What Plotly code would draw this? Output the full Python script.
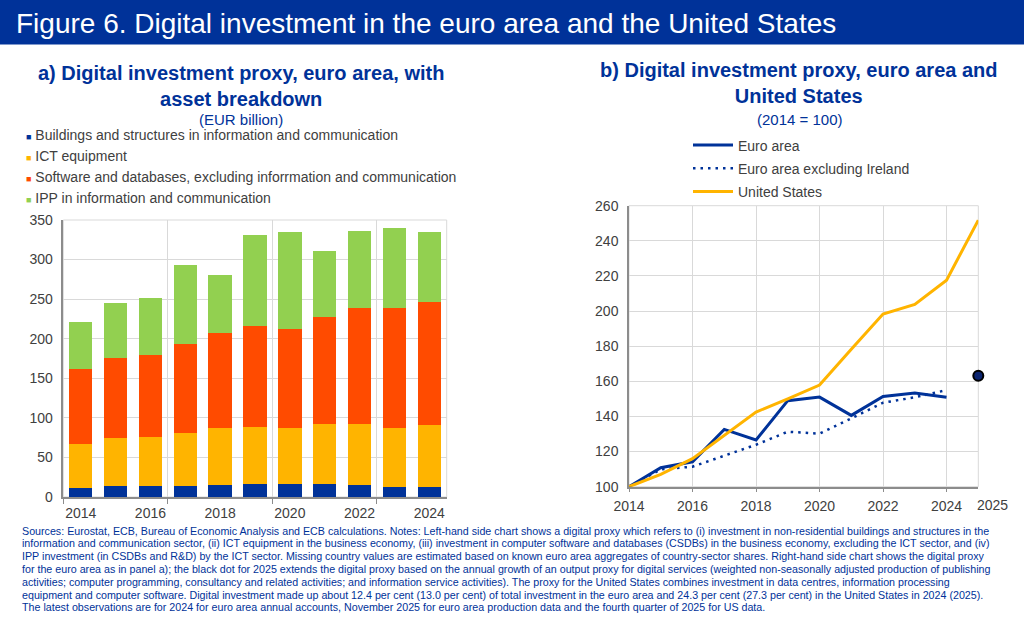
import plotly.graph_objects as go

# panel a) EUR billion, stacked by asset type
years_a = [2014, 2015, 2016, 2017, 2018, 2019, 2020, 2021, 2022, 2023, 2024]
buildings = [11.8, 13.5, 14.3, 14.3, 15.2, 16.0, 16.4, 16.4, 15.6, 12.7, 13.0]
ict_equipment = [55.2, 60.5, 61.2, 67.1, 72.1, 73.0, 70.5, 75.6, 77.2, 75.0, 78.5]
software = [94.5, 101.5, 103.5, 111.6, 119.4, 127.0, 125.7, 135.0, 145.9, 151.3, 154.5]
ipp = [59.1, 70.0, 73.0, 100.0, 74.3, 114.7, 122.4, 84.0, 97.0, 100.5, 88.5]

# panel b) index 2014 = 100
years_b = [2014, 2015, 2016, 2017, 2018, 2019, 2020, 2021, 2022, 2023, 2024]
euro_area = [100, 110.8, 114.2, 132.6, 126.6, 149.0, 151.0, 140.6, 151.4, 153.3, 150.9]
euro_ex_ireland = [100, 109.9, 111.4, 117.6, 123.9, 131.3, 130.2, 138.9, 147.8, 150.9, 155.0]
years_us = [2014, 2015, 2016, 2017, 2018, 2019, 2020, 2021, 2022, 2023, 2024, 2025]
united_states = [100, 107.0, 116.0, 129.0, 142.5, 150.0, 157.9, 178.2, 198.3, 203.8, 217.6, 251.8]
dot_year = [2025]
dot_value = [163.2]

BLUE = "#003299"
YELLOW = "#FFB400"
RED = "#FF4B00"
GREEN = "#92D050"
GRID = "#D9D9D9"
AXIS = "#8C8C8C"
TXT = "#404040"
FONT = "Liberation Sans, Arial, sans-serif"

W, H = 1024, 618


def px(x, y):
    return x / W, 1 - y / H


fig = go.Figure()

bar_series = [
    ("Buildings and structures in information and communication", buildings, BLUE),
    ("ICT equipment", ict_equipment, YELLOW),
    ("Software and databases, excluding inforrmation and communication", software, RED),
    ("IPP in information and communication", ipp, GREEN),
]
for name, vals, col in bar_series:
    fig.add_trace(go.Bar(x=years_a, y=vals, name=name, marker=dict(color=col, line=dict(width=0)),
                         width=0.67, showlegend=False, xaxis="x", yaxis="y"))

fig.add_trace(go.Scatter(x=years_b, y=euro_area, name="Euro area", mode="lines",
                         line=dict(color=BLUE, width=3), xaxis="x2", yaxis="y2", legendgroup="a"))
fig.add_trace(go.Scatter(x=years_b, y=euro_ex_ireland, name="Euro area excluding Ireland", mode="lines",
                         line=dict(color=BLUE, width=2.5, dash="2.5px,5px"), xaxis="x2", yaxis="y2",
                         legendgroup="b"))
fig.add_trace(go.Scatter(x=years_us, y=united_states, name="United States", mode="lines",
                         line=dict(color=YELLOW, width=3), xaxis="x2", yaxis="y2", legendgroup="c"))
fig.add_trace(go.Scatter(x=dot_year, y=dot_value, mode="markers", showlegend=False,
                         marker=dict(size=10, color="#0B2470", line=dict(color="black", width=2)),
                         xaxis="x2", yaxis="y2", cliponaxis=False))

x0, _ = px(63.3, 0)
x1, _ = px(446.7, 0)
_, yb = px(0, 497)
_, yt = px(0, 220)
x2a, _ = px(629, 0)
x2b, _ = px(978.3, 0)
_, y2b = px(0, 486.7)
_, y2t = px(0, 205.7)

tickfont = dict(family=FONT, size=14, color=TXT)

fig.update_layout(
    width=W, height=H,
    margin=dict(l=0, r=0, t=0, b=0, pad=0),
    paper_bgcolor="white", plot_bgcolor="white",
    barmode="stack", bargap=0.33,
    font=dict(family=FONT, color=TXT),
    xaxis=dict(domain=[x0, x1], range=[2013.5, 2024.5], tickvals=[2014, 2016, 2018, 2020, 2022, 2024],
               ticks="", showgrid=False, showline=True, linecolor=AXIS, linewidth=1.5,
               tickfont=tickfont, ticklabelstandoff=2, zeroline=False, automargin=False,
               minor=dict(tick0=2013.5, dtick=3, showgrid=True, gridcolor=GRID, gridwidth=1,
                          ticks="outside", ticklen=5, tickcolor=AXIS)),
    yaxis=dict(domain=[yb, yt], range=[0, 350], dtick=50, showgrid=True, gridcolor=GRID,
               showline=True, linecolor=AXIS, linewidth=1.5, ticks="", tickfont=tickfont,
               ticklabelstandoff=6, zeroline=False, automargin=False),
    xaxis2=dict(domain=[x2a, x2b], range=[2014, 2025], tickvals=[2014, 2016, 2018, 2020, 2022, 2024],
                anchor="y2", showgrid=True, gridcolor=GRID, showline=True, linecolor=AXIS, linewidth=1.5,
                ticks="outside", ticklen=4, tickcolor=AXIS, tickfont=tickfont, ticklabelstandoff=2,
                zeroline=False, automargin=False),
    yaxis2=dict(domain=[y2b, y2t], range=[100, 260], dtick=20, anchor="x2", showgrid=True, gridcolor=GRID,
                showline=True, linecolor=AXIS, linewidth=1.5, ticks="", tickfont=tickfont,
                ticklabelstandoff=6, zeroline=False, automargin=False),
    legend=dict(x=688 / W, y=1 - 129.5 / H, xanchor="left", yanchor="top", bgcolor="rgba(0,0,0,0)",
                font=dict(family=FONT, size=14, color=TXT), tracegroupgap=2, itemwidth=40),
    showlegend=True,
)

# frames (light top/right borders) and banner
for xr, yr in (("x domain", "y domain"), ("x2 domain", "y2 domain")):
    fig.add_shape(type="rect", xref=xr, yref=yr, x0=0, x1=1, y0=0, y1=1,
                  line=dict(color=GRID, width=1), layer="below")
fig.add_shape(type="rect", xref="paper", yref="paper", x0=0, x1=1, y0=1 - 44.5 / H, y1=1,
              fillcolor=BLUE, line=dict(width=0), layer="below")

ann = []
bx, by = px(14, 23)
ann.append(dict(x=bx, y=by, xref="paper", yref="paper", xanchor="left", yanchor="middle", showarrow=False,
                text="Figure 6. Digital investment in the euro area and the United States",
                font=dict(family=FONT, size=28, color="white")))

tx, ty = px(240.5, 85.5)
ann.append(dict(x=tx, y=ty, xref="paper", yref="paper", xanchor="center", yanchor="middle", showarrow=False,
                text="<b>a) Digital investment proxy, euro area, with<br>asset breakdown</b>",
                font=dict(family=FONT, size=20, color=BLUE)))
tx, ty = px(241, 119)
ann.append(dict(x=tx, y=ty, xref="paper", yref="paper", xanchor="center", yanchor="middle", showarrow=False,
                text="(EUR billion)", font=dict(family=FONT, size=15, color=BLUE)))
tx, ty = px(799, 82.5)
ann.append(dict(x=tx, y=ty, xref="paper", yref="paper", xanchor="center", yanchor="middle", showarrow=False,
                text="<b>b) Digital investment proxy, euro area and<br>United States</b>",
                font=dict(family=FONT, size=20, color=BLUE)))
tx, ty = px(799, 119)
ann.append(dict(x=tx, y=ty, xref="paper", yref="paper", xanchor="center", yanchor="middle", showarrow=False,
                text="(2014 = 100)", font=dict(family=FONT, size=15, color=BLUE)))

# left legend
for i, (name, _, col) in enumerate(bar_series):
    lx, ly = px(24, 135 + i * 20.9)
    ann.append(dict(x=lx, y=ly, xref="paper", yref="paper", xanchor="left", yanchor="middle", showarrow=False,
                    text=f'<span style="color:{col};font-size:9px">■</span> {name}',
                    font=dict(family=FONT, size=14, color=TXT)))

ann.append(dict(x=2025, y=0, xref="x2", yref="y2 domain", xanchor="center", yanchor="top", showarrow=False,
                text="2025", xshift=14, yshift=-8, font=tickfont))

notes = [
    "Sources: Eurostat, ECB, Bureau of Economic Analysis and ECB calculations. Notes: Left-hand side chart shows a digital proxy which refers to (i) investment in non-residential buildings and structures in the",
    "information and communication sector, (ii) ICT equipment in the business economy, (iii) investment in computer software and databases (CSDBs) in the business economy, excluding the ICT sector, and (iv)",
    "IPP investment (in CSDBs and R&amp;D) by the ICT sector. Missing country values are estimated based on known euro area aggregates of country-sector shares. Right-hand side chart shows the digital proxy",
    "for the euro area as in panel a); the black dot for 2025 extends the digital proxy based on the annual growth of an output proxy for digital services (weighted non-seasonally adjusted production of publishing",
    "activities; computer programming, consultancy and related activities; and information service activities). The proxy for the United States combines investment in data centres, information processing",
    "equipment and computer software. Digital investment made up about 12.4 per cent (13.0 per cent) of total investment in the euro area and 24.3 per cent (27.3 per cent) in the United States in 2024 (2025).",
    "The latest observations are for 2024 for euro area annual accounts, November 2025 for euro area production data and the fourth quarter of 2025 for US data.",
]
for i, line in enumerate(notes):
    nx, ny = px(20, 530.5 + i * 12.8)
    ann.append(dict(x=nx, y=ny, xref="paper", yref="paper", xanchor="left", yanchor="middle", showarrow=False,
                    text=line, font=dict(family=FONT, size=10.7, color=BLUE)))

fig.update_layout(annotations=ann)

# the page's default 8px body margin would push the 1024x618 figure off the window
fig.write_html("out.html", config={"displayModeBar": False},
               post_script="document.body.style.margin='0';")
